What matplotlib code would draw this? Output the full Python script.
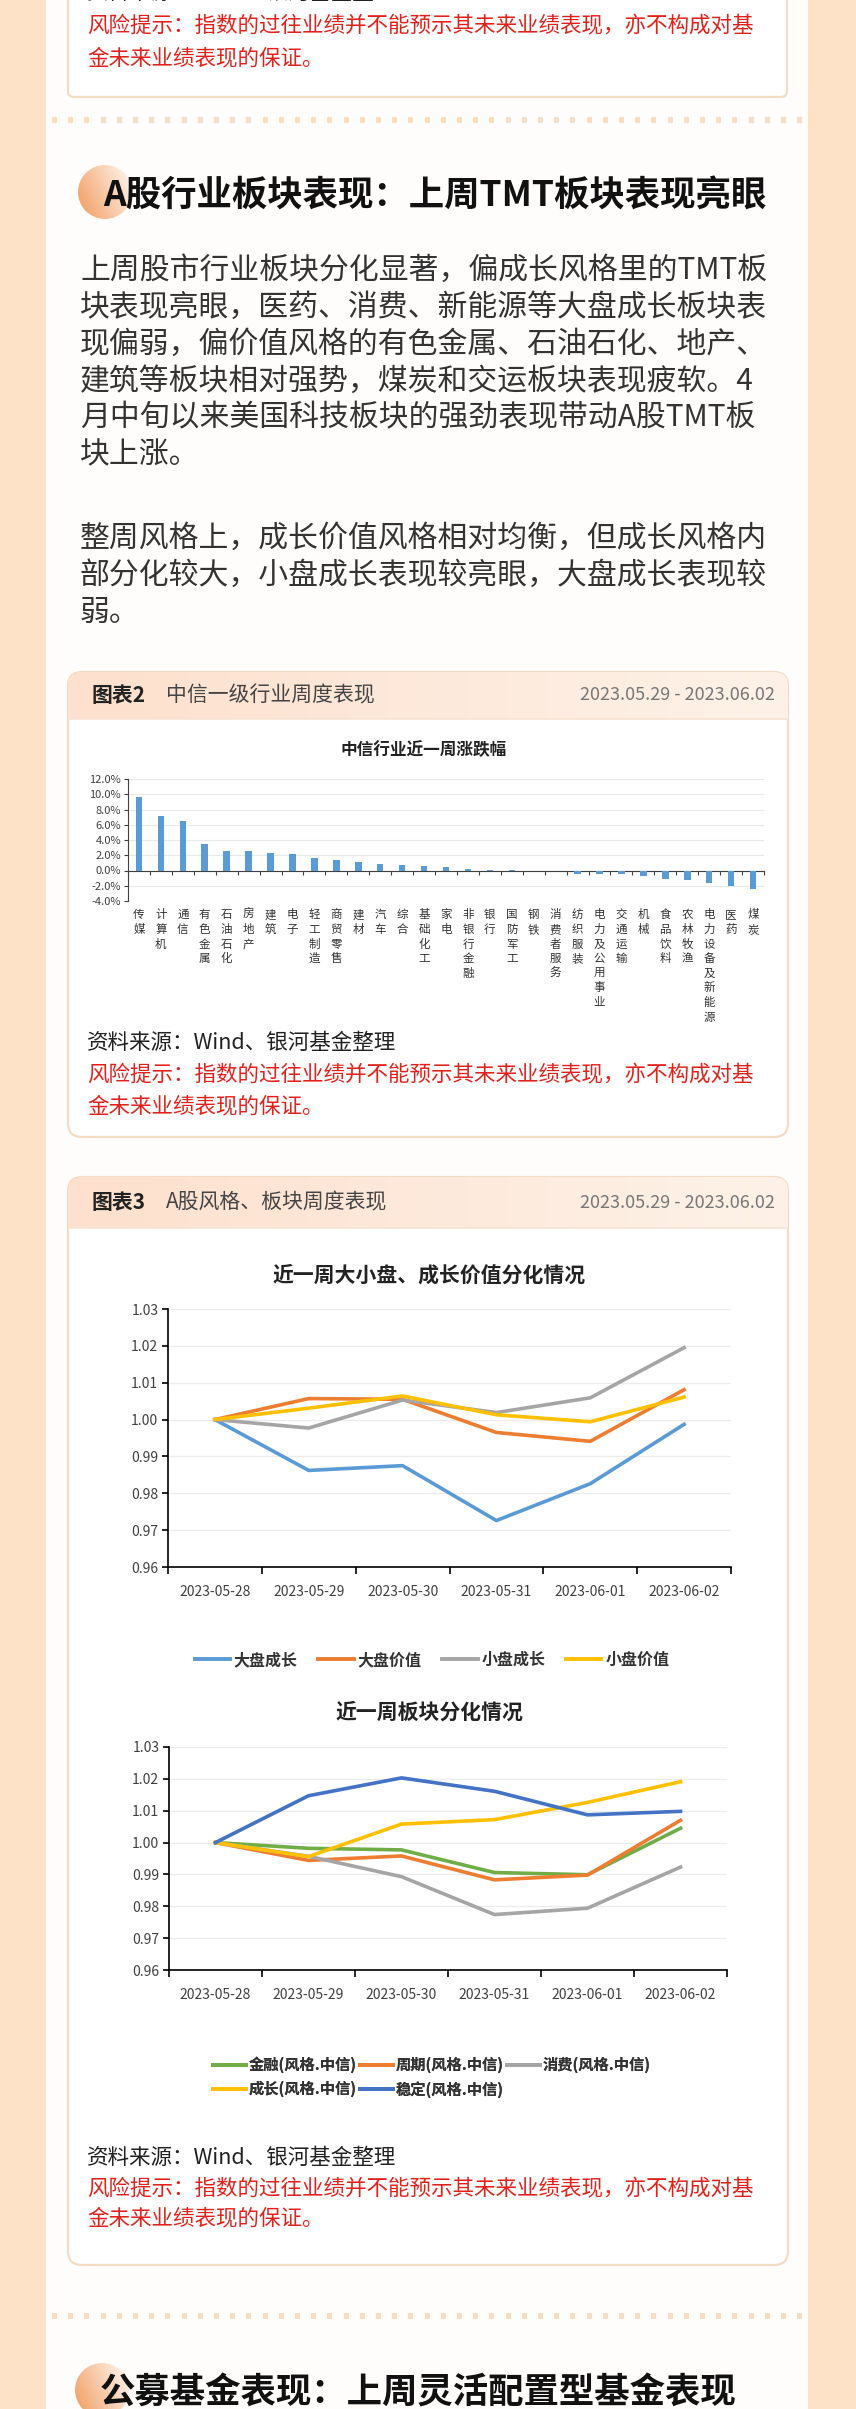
import numpy as np
import matplotlib
matplotlib.use("Agg")
import matplotlib.pyplot as plt
from matplotlib.patches import Rectangle, FancyBboxPatch, Circle
from matplotlib.lines import Line2D
from matplotlib.colors import to_rgb

plt.rcParams['font.family'] = ['Noto Sans CJK SC', 'DejaVu Sans']
plt.rcParams['axes.unicode_minus'] = False

# ── data ──────────────────────────────────────────────────────────────────────
industries = ["传媒", "计算机", "通信", "有色金属", "石油石化", "房地产", "建筑", "电子",
              "轻工制造", "商贸零售", "建材", "汽车", "综合", "基础化工", "家电", "非银行金融",
              "银行", "国防军工", "钢铁", "消费者服务", "纺织服装", "电力及公用事业", "交通运输",
              "机械", "食品饮料", "农林牧渔", "电力设备及新能源", "医药", "煤炭"]
ind_chg = [9.6, 7.2, 6.45, 3.5, 2.62, 2.62, 2.24, 2.15, 1.58, 1.4, 1.05, 0.83, 0.7, 0.61,
           0.44, 0.15, 0.03, 0.01, -0.03, -0.13, -0.48, -0.48, -0.48, -0.7, -1.1, -1.27,
           -1.7, -2.0, -2.45]

dates = ["2023-05-28", "2023-05-29", "2023-05-30", "2023-05-31", "2023-06-01", "2023-06-02"]

style_names = ["大盘成长", "大盘价值", "小盘成长", "小盘价值"]
big_growth = [1.000, 0.9862, 0.9875, 0.9726, 0.9826, 0.9987]
big_value = [1.000, 1.0057, 1.0055, 0.9965, 0.9941, 1.0081]
small_growth = [1.000, 0.9977, 1.0053, 1.0019, 1.0059, 1.0195]
small_value = [1.000, 1.0031, 1.0064, 1.0013, 0.9994, 1.0061]

sector_names = ["金融(风格.中信)", "周期(风格.中信)", "消费(风格.中信)", "成长(风格.中信)", "稳定(风格.中信)"]
finance = [1.000, 0.9982, 0.9977, 0.9906, 0.9899, 1.0045]
cyclical = [1.000, 0.9944, 0.9958, 0.9883, 0.9898, 1.0070]
consumer = [1.000, 0.9957, 0.9893, 0.9774, 0.9794, 0.9923]
growth = [1.000, 0.9956, 1.0058, 1.0072, 1.0126, 1.0191]
stable = [1.000, 1.0147, 1.0203, 1.0161, 1.0087, 1.0098]

# ── colours ───────────────────────────────────────────────────────────────────
OUTER = "#fde2c8"
PANEL = "#fffdfb"
EDGE = "#f3dcc4"
TXT = "#333333"
RED = "#e3211c"
BLUE = "#5b9bd5"
ORANGE = "#ed7d31"
GRAY = "#a5a5a5"
GOLD = "#ffc000"
DBLUE = "#4472c4"
GREEN = "#70ad47"

W, H = 856, 2409
fig = plt.figure(figsize=(W / 100, H / 100), dpi=100, facecolor=OUTER)
bg = fig.add_axes([0, 0, 1, 1])
bg.set_xlim(0, W)
bg.set_ylim(H, 0)
bg.axis("off")


def px_axes(x0, y0, x1, y1):
    return fig.add_axes([x0 / W, 1 - y1 / H, (x1 - x0) / W, (y1 - y0) / H])


def gradient(c0, c1, n=200, diag=False):
    a, b = np.array(to_rgb(c0)), np.array(to_rgb(c1))
    u = np.linspace(0, 1, n)
    if diag:
        uu, vv = np.meshgrid(u, u)
        t = np.clip(0.75 * uu + 0.35 * (1 - vv), 0, 1)
    else:
        t = np.tile(u, (2, 1))
    return a + (b - a) * t[..., None]


# ── page background ───────────────────────────────────────────────────────────
bg.add_patch(Rectangle((46, 0), 762, H, facecolor=PANEL, edgecolor="none", zorder=0))


def separator(y):
    for x in np.arange(52, 806, 16.2):
        bg.add_patch(Rectangle((x, y - 3), 5, 6, facecolor="#f9dcc1", edgecolor="none", zorder=1))


def heading(y, text, cx):
    circ = Circle((cx, y - 3), 27, facecolor="none", edgecolor="none")
    bg.add_patch(circ)
    im = bg.imshow(gradient("#f19a5e", "#fff1e6", diag=True),
                   extent=[cx - 27, cx + 27, y + 24, y - 30], zorder=1, aspect="auto")
    im.set_clip_path(circ)
    bg.text(cx - 2, y, text, fontsize=25.5, fontweight="bold", color="#111111",
            va="center", ha="left", zorder=3)


def notes(y_src, y_r1, y_r2, src=True):
    if src:
        bg.text(87, y_src, "资料来源：Wind、银河基金整理", fontsize=15.5, color="#222222", va="center")
    bg.text(87, y_r1, "风险提示：指数的过往业绩并不能预示其未来业绩表现，亦不构成对基",
            fontsize=15.5, color=RED, va="center")
    bg.text(87, y_r2, "金未来业绩表现的保证。", fontsize=15.5, color=RED, va="center")


def chart_box(y0, y1, hdr_h, num, title):
    box = FancyBboxPatch((68, y0), 720, y1 - y0, boxstyle="round,pad=0,rounding_size=14",
                         facecolor="white", edgecolor=EDGE, linewidth=1.6, zorder=1)
    bg.add_patch(box)
    im = bg.imshow(gradient("#fde0cd", "#fef2e8"), extent=[68, 788, y0 + hdr_h, y0],
                   zorder=1.5, aspect="auto")
    im.set_clip_path(box)
    bg.plot([69, 787], [y0 + hdr_h, y0 + hdr_h], color="#f8e3d2", lw=1.2, zorder=2)
    yc = y0 + hdr_h / 2
    bg.text(92, yc, num, fontsize=15, fontweight="bold", color="#222222", va="center", zorder=3)
    bg.text(166, yc, title, fontsize=15, color="#444444", va="center", zorder=3)
    bg.text(775, yc, "2023.05.29 - 2023.06.02", fontsize=13, color="#777777",
            va="center", ha="right", zorder=3)


# top box remnant (its source line is cut by the top edge, as in the reference)
bg.add_patch(FancyBboxPatch((68, -40), 719, 137, boxstyle="round,pad=0,rounding_size=6",
                            facecolor="white", edgecolor=EDGE, linewidth=1.6, zorder=1))
notes(-7, 26, 58)

separator(120)
heading(195, "A股行业板块表现：上周TMT板块表现亮眼", 105)

para1 = ["上周股市行业板块分化显著，偏成长风格里的TMT板",
         "块表现亮眼，医药、消费、新能源等大盘成长板块表",
         "现偏弱，偏价值风格的有色金属、石油石化、地产、",
         "建筑等板块相对强势，煤炭和交运板块表现疲软。4",
         "月中旬以来美国科技板块的强劲表现带动A股TMT板",
         "块上涨。"]
para2 = ["整周风格上，成长价值风格相对均衡，但成长风格内",
         "部分化较大，小盘成长表现较亮眼，大盘成长表现较",
         "弱。"]
for i, line in enumerate(para1):
    bg.text(80, 270 + 37 * i, line, fontsize=21.5, color=TXT, va="center")
for i, line in enumerate(para2):
    bg.text(80, 538 + 37 * i, line, fontsize=21.5, color=TXT, va="center")

# ── chart 2 : bar chart ───────────────────────────────────────────────────────
chart_box(672, 1137, 47, "图表2", "中信一级行业周度表现")
bg.text(424, 750, "中信行业近一周涨跌幅", fontsize=12, fontweight="bold", color="#222222",
        ha="center", va="center", zorder=3)

ax = px_axes(128, 779, 764, 901)
ax.set_facecolor("none")
x = np.arange(len(industries))
ax.bar(x, ind_chg, width=0.3, color=BLUE, zorder=3)
ax.set_xlim(-0.5, len(industries) - 0.5)
ax.set_ylim(-4, 12)
ax.set_yticks(np.arange(-4, 13, 2))
ax.set_yticklabels([f"{v:.1f}%" for v in np.arange(-4, 13, 2)])
ax.yaxis.grid(True, color="#e8e8e8", lw=0.8)
ax.set_axisbelow(True)
for s in ["top", "right"]:
    ax.spines[s].set_visible(False)
ax.spines["left"].set_color("#404040")
ax.spines["bottom"].set_position(("data", 0))
ax.spines["bottom"].set_color("#404040")
ax.set_xticks(np.arange(-0.5, len(industries), 1))
ax.set_xticklabels([])
ax.tick_params(axis="x", direction="out", length=3, color="#404040")
ax.tick_params(axis="y", direction="out", length=3, color="#404040", labelsize=8,
               labelcolor="#404040", pad=2)
for i, name in enumerate(industries):
    ax.text(i, -0.06, "\n".join(name), transform=ax.get_xaxis_transform(), ha="center",
            va="top", fontsize=8.3, color="#333333", linespacing=1.16)

notes(1043, 1075, 1106)

# ── chart 3 : line charts ─────────────────────────────────────────────────────
chart_box(1177, 2265, 51, "图表3", "A股风格、板块周度表现")


def line_axes(ax):
    ax.set_facecolor("none")
    ax.set_xlim(-0.5, 5.5)
    ax.set_ylim(0.96, 1.03)
    ax.set_yticks(np.arange(0.96, 1.0301, 0.01))
    ax.set_yticklabels([f"{v:.2f}" for v in np.arange(0.96, 1.0301, 0.01)])
    ax.yaxis.grid(True, color="#ececec", lw=0.9)
    ax.set_axisbelow(True)
    for s in ["top", "right"]:
        ax.spines[s].set_visible(False)
    for s in ["left", "bottom"]:
        ax.spines[s].set_color("black")
        ax.spines[s].set_linewidth(1.2)
    ax.set_xticks(range(6))
    ax.set_xticklabels(dates)
    ax.set_xticks(np.arange(-0.5, 6, 1), minor=True)
    ax.tick_params(axis="x", which="major", length=0, labelsize=10, labelcolor="#404040", pad=13)
    ax.tick_params(axis="x", which="minor", length=5, width=1.2, direction="out")
    ax.tick_params(axis="y", length=4, width=1.2, direction="out", labelsize=10,
                   labelcolor="#404040", pad=3)


bg.text(429, 1275, "近一周大小盘、成长价值分化情况", fontsize=15, fontweight="bold",
        color="#222222", ha="center", va="center", zorder=3)
ax1 = px_axes(168, 1309, 731, 1567)
line_axes(ax1)
style_series = [big_growth, big_value, small_growth, small_value]
style_colors = [BLUE, ORANGE, GRAY, GOLD]
for ser, col in zip(style_series, style_colors):
    ax1.plot(range(6), ser, color=col, lw=2.6, solid_joinstyle="round")
h1 = [Line2D([], [], color=c, lw=2.8) for c in style_colors]
leg1 = bg.legend(h1, style_names, ncol=4, loc="center", bbox_to_anchor=(432, 1660),
                 bbox_transform=bg.transData, frameon=False, fontsize=11.5, handlelength=2.2,
                 handletextpad=0.25, columnspacing=1.3, borderpad=0)
for t in leg1.get_texts():
    t.set_fontweight("bold")
    t.set_color("#333333")
bg.add_artist(leg1)

bg.text(429, 1712, "近一周板块分化情况", fontsize=15, fontweight="bold",
        color="#222222", ha="center", va="center", zorder=3)
ax2 = px_axes(169, 1747, 727, 1970)
line_axes(ax2)
sector_series = [finance, cyclical, consumer, growth, stable]
sector_colors = [GREEN, ORANGE, GRAY, GOLD, DBLUE]
for ser, col in zip(sector_series, sector_colors):
    ax2.plot(range(6), ser, color=col, lw=2.6, solid_joinstyle="round")
order = [0, 3, 1, 4, 2]
h2 = [Line2D([], [], color=sector_colors[k], lw=2.8) for k in order]
leg2 = bg.legend(h2, [sector_names[k] for k in order], ncol=3, loc="center left",
                 bbox_to_anchor=(205, 2077), bbox_transform=bg.transData, frameon=False,
                 fontsize=11, handlelength=2.2, handletextpad=0.15, columnspacing=0.2,
                 borderpad=0, labelspacing=0.5)
for t in leg2.get_texts():
    t.set_fontweight("bold")
    t.set_color("#333333")
bg.add_artist(leg2)

notes(2158, 2189, 2218)

separator(2316)
heading(2393, "公募基金表现：上周灵活配置型基金表现", 102)

fig.savefig("out.png", dpi=100, facecolor=OUTER)
